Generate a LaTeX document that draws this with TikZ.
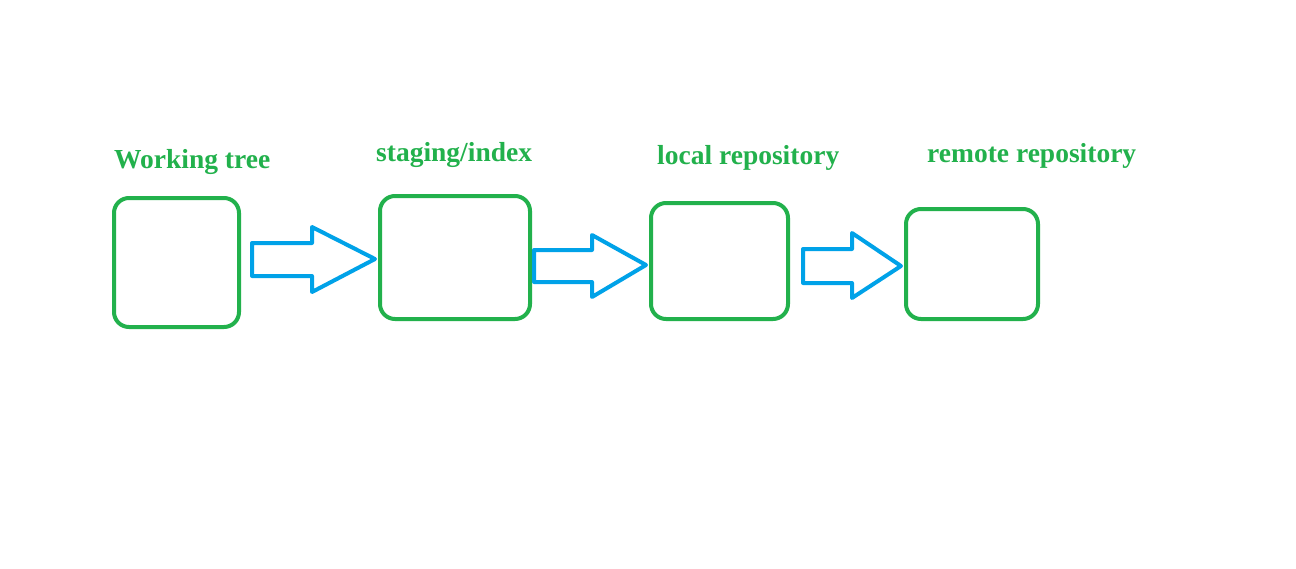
\documentclass[tikz,border=0pt]{standalone}
\usepackage{fontspec}
\setmainfont{Liberation Serif}
\definecolor{pgreen}{RGB}{34,177,76}
\definecolor{pblue}{RGB}{0,162,232}
\begin{document}
\begin{tikzpicture}[x=1pt,y=-1pt,
  box/.style={draw=pgreen,line width=4pt,rounded corners=15pt,inner sep=0pt},
  blockarrow/.style={draw=pblue,line width=4pt,line join=round},
  label/.style={text=pgreen,font=\fontsize{27.5}{32}\selectfont\bfseries,anchor=base west,inner sep=0pt}]
\useasboundingbox[fill=white] (0,0) rectangle (1296,568);
% labels
\node[label] (l1) at (114,168) {Working tree};
\node[label] (l2) at (376,161) {staging/index};
\node[label] (l3) at (657,164) {local repository};
\node[label] (l4) at (927,162) {remote repository};
% boxes
\node[box,minimum width=125pt,minimum height=129pt] (b1) at (176.5,262.5) {};
\node[box,minimum width=150pt,minimum height=123pt] (b2) at (455,257.5) {};
\node[box,minimum width=137pt,minimum height=116pt] (b3) at (719.5,261) {};
\node[box,minimum width=132pt,minimum height=110pt] (b4) at (972,264) {};
% tip points of the block arrows, touching each box
\coordinate (t2) at ([xshift=-3pt]b2.west |- 0,259);
\coordinate (t3) at ([xshift=-3pt]b3.west |- 0,265);
\coordinate (t4) at ([xshift=-3pt]b4.west |- 0,266);
% block arrows
\draw[blockarrow] (252,243) -- (312,243) -- (312,227) -- (t2) -- (312,292) -- (312,276) -- (252,276) -- cycle;
\draw[blockarrow] (534,250) -- (592,250) -- (592,235) -- (t3) -- (592,297) -- (592,282) -- (534,282) -- cycle;
\draw[blockarrow] (803,249) -- (852,249) -- (852,233) -- (t4) -- (852,298) -- (852,283) -- (803,283) -- cycle;
\end{tikzpicture}
\end{document}
